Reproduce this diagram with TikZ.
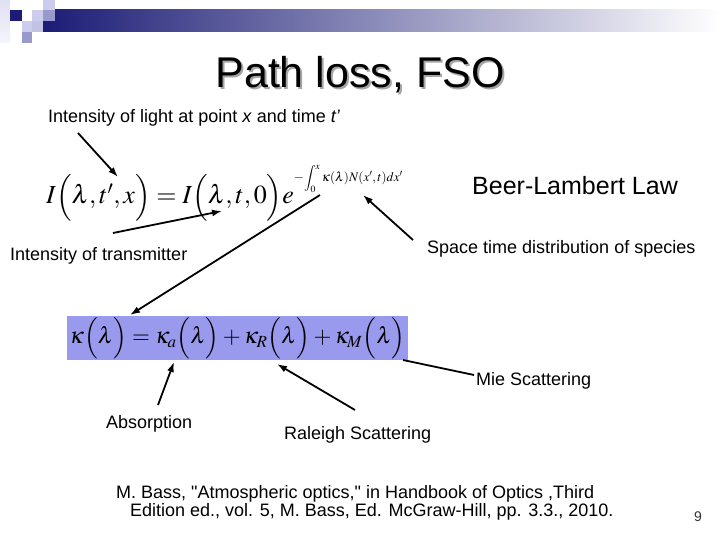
\documentclass[tikz,border=0pt]{standalone}
\usepackage{mathptmx}
\usepackage[no-math]{fontspec}
\setmainfont{Liberation Sans}[Ligatures=TeXOff]
\usetikzlibrary{arrows.meta}
\definecolor{hdark}{RGB}{28,28,118}
\definecolor{hmid}{RGB}{170,170,196}
\definecolor{hlight}{RGB}{204,204,236}
\definecolor{hmed}{RGB}{153,153,204}
\definecolor{eqblue}{RGB}{153,153,238}

\begin{document}
\begin{tikzpicture}[x=1pt, y=-1pt,
    lbl/.style={font=\fontsize{18}{18}\selectfont, inner sep=0pt, anchor=base west},
    arr/.style={-{Latex[length=10pt,width=7pt]}, line width=1.8pt},
    title/.style={font=\fontsize{43}{43}\selectfont, inner sep=0pt, anchor=base}]
    \useasboundingbox (0,0) rectangle (720,540);
    % header bar and squares
    \shade[left color=hdark, middle color=hmid, right color=white] (43,10) rectangle (720,32);
    \shade[top color=hlight!60, bottom color=hlight!20] (0,0) rectangle (10,43);
    \fill[hdark] (10,10) rectangle (22,21);
    \fill[hlight] (32,10) rectangle (43,21);
    \fill[hlight] (43,0) rectangle (55,10);
    \fill[hmed] (43,10) rectangle (55,21);
    \fill[hlight] (22,21) rectangle (32,32);
    \fill[hlight!80!hmed] (32,21) rectangle (43,32);
    \fill[hmed] (22,32) rectangle (32,43);
    % title
    \node[title, text=gray!70] at (362,90) {Path loss, FSO};
    \node[title] (ttl) at (360,88) {Path loss, FSO};
    % formulas
    \node[anchor=base west, inner sep=0pt, font=\fontsize{26}{26}\selectfont] (bl) at (46,204)
        {$I\Big(\lambda,t',x\Big)=I\Big(\lambda,t,0\Big)e\raisebox{22pt}{\fontsize{13}{13}\selectfont$\displaystyle-\!\int_0^x\kappa(\lambda)N(x',t)dx'$}$};
    \node[fill=eqblue, minimum width=341pt, minimum height=44pt, inner sep=0pt, font=\fontsize{23}{23}\selectfont] (kappa) at (237.5,338)
        {$\kappa\Big(\lambda\Big)=\kappa_a\Big(\lambda\Big)+\kappa_R\Big(\lambda\Big)+\kappa_M\Big(\lambda\Big)$};
    % labels
    \node[lbl] (light) at (48,123) {Intensity of light at point \textit{x} and time \textit{t’}};
    \node[lbl, font=\fontsize{25}{25}\selectfont] (beer) at (472,195) {Beer-Lambert Law};
    \node[lbl] (trans) at (10,260) {Intensity of transmitter};
    \node[lbl] (space) at (427,253) {Space time distribution of species};
    \node[lbl] (mie) at (476,385) {Mie Scattering};
    \node[lbl] (abs) at (106,428) {Absorption};
    \node[lbl] (ray) at (284,439) {Raleigh Scattering};
    \node[lbl] (refa) at (116,498) {M. Bass, "Atmospheric optics," in Handbook of Optics ,Third};
    \node[lbl] (refb) at (130,516) {Edition ed., vol. 5, M. Bass, Ed. McGraw-Hill, pp. 3.3., 2010.};
    \node[lbl, font=\fontsize{14}{14}\selectfont, text=black!80] (page) at (694,521) {9};
    % arrow ends
    \coordinate (tp) at (118,177);
    \coordinate (tz) at (222,211);
    \coordinate (ex) at (320,195);
    \coordinate (nx) at (363,195);
    \coordinate (ka) at (174,362);
    \coordinate (kr) at (277,364);
    \coordinate (km) at (403,360);
    \coordinate (lightend) at (78,133);
    \coordinate (transend) at (113,233);
    \coordinate (kappaend) at (130,315);
    \coordinate (spaceend) at (413,240);
    \coordinate (absend) at (158,405);
    \coordinate (rayend) at (355,410);
    \coordinate (mieend) at (474,375);
    \draw[arr] (lightend) -- (tp);
    \draw[arr] (transend) -- (tz);
    \draw[arr] (ex) -- (kappaend);
    \draw[arr] (spaceend) -- (nx);
    \draw[arr] (absend) -- (ka);
    \draw[arr] (rayend) -- (kr);
    \draw[line width=1.8pt] (km) -- (mieend);
\end{tikzpicture}
\end{document}
